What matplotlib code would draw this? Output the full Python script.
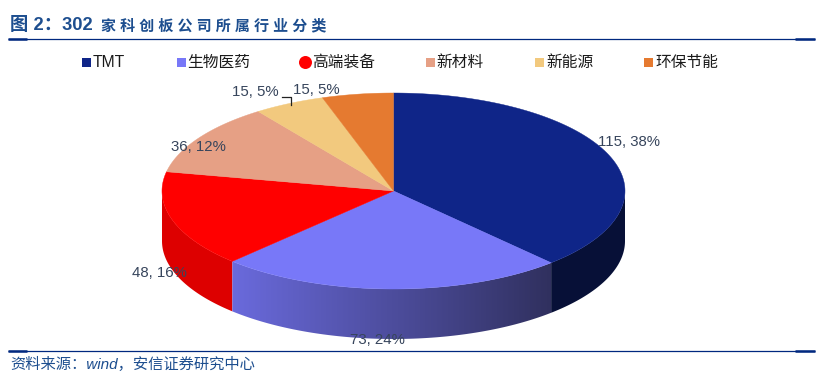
#!/usr/bin/env python3

from __future__ import annotations

import matplotlib

matplotlib.use("Agg")

import matplotlib.pyplot as plt
import numpy as np
from matplotlib.colors import LinearSegmentedColormap
from matplotlib.patches import Circle, Polygon, Rectangle

plt.rcParams["font.family"] = ["Liberation Sans", "Noto Sans CJK SC"]

CATEGORIES = ["TMT", "生物医药", "高端装备", "新材料", "新能源", "环保节能"]
VALUES = [115, 73, 48, 36, 15, 15]
PERCENTS = [38, 24, 16, 12, 5, 5]
COLORS = ["#0F2588", "#7878F8", "#FF0000", "#E6A085", "#F2C97E", "#E57A30"]

TITLE_HEAD = "图 2：302"
TITLE_TAIL = "家 科 创 板 公 司 所 属 行 业 分 类"
SOURCE = "资料来源：wind，安信证券研究中心"

NAVY = "#00287F"
LABEL_COLOR = "#37455C"

# pie geometry in image pixels
CX, CY = 393.5, 191.0
RX, RY = 231.5, 98.0
DEPTH = 50.0


def rim(start: float, end: float) -> tuple[np.ndarray, np.ndarray]:
    # angles are degrees clockwise from the top of the ellipse
    angles = np.radians(np.linspace(start, end, 120))
    return CX + RX * np.sin(angles), CY - RY * np.cos(angles)


def side_polygon(start: float, end: float) -> np.ndarray:
    xs, ys = rim(start, end)
    top = np.column_stack([xs, ys])
    bottom = np.column_stack([xs, ys + DEPTH])[::-1]
    return np.vstack([top, bottom])


def main() -> None:
    fig = plt.figure(figsize=(8.3, 3.88), dpi=100)
    ax = fig.add_axes([0, 0, 1, 1])

    edges = np.cumsum([0] + VALUES) / sum(VALUES) * 360.0

    # side wall, only the front half of the ellipse shows
    ax.add_patch(Polygon(side_polygon(90, edges[1]), closed=True, fc="#071037", ec="none", zorder=1))
    ax.add_patch(Polygon(side_polygon(edges[2], 270), closed=True, fc="#DD0000", ec="none", zorder=1))

    bio_side = Polygon(side_polygon(edges[1], edges[2]), closed=True, fc="none", ec="none", zorder=1)
    ax.add_patch(bio_side)
    shade = LinearSegmentedColormap.from_list("bio", ["#6A6ADC", "#30305E"])
    image = ax.imshow(
        np.linspace(0, 1, 256).reshape(1, -1),
        extent=(232, 552, 345, 255),
        cmap=shade,
        aspect="auto",
        zorder=1,
    )
    image.set_clip_path(bio_side)

    # top face
    for i, color in enumerate(COLORS):
        xs, ys = rim(edges[i], edges[i + 1])
        points = np.column_stack([np.r_[CX, xs], np.r_[CY, ys]])
        ax.add_patch(Polygon(points, closed=True, fc=color, ec=color, lw=0.3, zorder=2))

    # data labels
    label_pos = [(628.5, 142), (377.5, 340), (159, 273), (198, 147), (255, 92), (316, 90)]
    for value, percent, (x, y) in zip(VALUES, PERCENTS, label_pos):
        ax.text(x, y, f"{value}, {percent}%", fontsize=10.8, color=LABEL_COLOR, ha="center", va="center", zorder=4)
    ax.plot([282, 291, 291], [97, 97, 105], color="#222222", lw=0.9, zorder=3)

    # legend
    legend_marker_x = [82, 177, 299.5, 426, 535, 644]
    legend_text_x = [93, 187, 312, 436, 546, 655]
    for i, name in enumerate(CATEGORIES):
        if name == "高端装备":
            ax.add_patch(Circle((legend_marker_x[i] + 6, 62.5), 6.5, fc=COLORS[i], ec="none"))
        else:
            ax.add_patch(Rectangle((legend_marker_x[i], 58), 9, 9, fc=COLORS[i], ec="none"))
        ax.text(legend_text_x[i], 62.5, name, fontsize=11.3, color="#1A1A1A", ha="left", va="center")

    # title, source and rules
    ax.text(10, 26, TITLE_HEAD, fontsize=13.2, fontweight="bold", color="#1D4E8F", ha="left", va="center")
    ax.text(101, 26, TITLE_TAIL, fontsize=10.8, fontweight="bold", color="#1D4E8F", ha="left", va="center")
    ax.text(10, 364, SOURCE, fontsize=11, style="italic", color="#1D4E8F", ha="left", va="center")
    for y in (38.5, 351):
        ax.plot([8, 815], [y, y], color=NAVY, lw=0.9, solid_capstyle="butt")
        ax.plot([8, 27], [y, y], color=NAVY, lw=1.8, solid_capstyle="butt")
        ax.plot([795, 815], [y, y], color=NAVY, lw=1.8, solid_capstyle="butt")

    ax.set_xlim(0, 830)
    ax.set_ylim(388, 0)
    ax.axis("off")
    fig.savefig("out.png", dpi=100, facecolor="white")
    plt.close(fig)


if __name__ == "__main__":
    main()
